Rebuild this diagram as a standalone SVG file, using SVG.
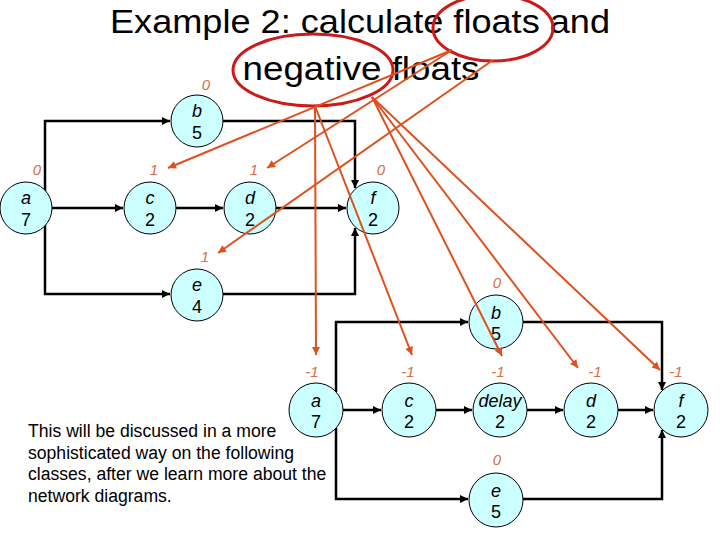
<svg xmlns="http://www.w3.org/2000/svg" width="720" height="540" viewBox="0 0 720 540">
<style>
.node{fill:#ccffff;stroke:#000;stroke-width:1}
.lt{font-family:"Liberation Sans",Arial,sans-serif;font-size:18px;font-style:italic;text-anchor:middle;fill:#000}
.nm{font-family:"Liberation Sans",Arial,sans-serif;font-size:18px;text-anchor:middle;fill:#000}
.fl{font-family:"Liberation Sans",Arial,sans-serif;font-size:15px;font-style:italic;text-anchor:middle;fill:#d4704c}
.edge{fill:none;stroke:#000;stroke-width:2.5}
.ptr{fill:none;stroke:#e0501e;stroke-width:2}
.ring{fill:none;stroke:#cc1a1a;stroke-width:3}
.title{font-family:"Liberation Sans",Arial,sans-serif;font-size:34px;text-anchor:middle;fill:#000}
.note{font-family:"Liberation Sans",Arial,sans-serif;font-size:17.6px;fill:#000}
</style>
<defs>
<marker id="ah" viewBox="0 0 10 10" refX="10" refY="5" markerWidth="9" markerHeight="8" markerUnits="userSpaceOnUse" orient="auto"><path d="M0,0 L10,5 L0,10 Z" fill="#000"/></marker>
<marker id="oh" viewBox="0 0 10 10" refX="10" refY="5" markerWidth="10" markerHeight="8" markerUnits="userSpaceOnUse" orient="auto"><path d="M0,0 L10,5 L0,10 Z" fill="#e0501e"/></marker>
</defs>
<rect width="720" height="540" fill="#fff"/>

<g id="title">
<text class="title" x="360" y="33" textLength="500" lengthAdjust="spacingAndGlyphs">Example 2: calculate floats and</text>
<text class="title" x="361" y="80" textLength="237" lengthAdjust="spacingAndGlyphs">negative floats</text>
</g>

<g id="connectors">
<path class="edge" d="M45,195 V121 H170" marker-end="url(#ah)"/>
<path class="edge" d="M223,121 H355 V188" marker-end="url(#ah)"/>
<path class="edge" d="M52,208 H123" marker-end="url(#ah)"/>
<path class="edge" d="M176,208 H223" marker-end="url(#ah)"/>
<path class="edge" d="M276,208 H346" marker-end="url(#ah)"/>
<path class="edge" d="M45,222 V294 H170" marker-end="url(#ah)"/>
<path class="edge" d="M223,294 H355 V228" marker-end="url(#ah)"/>

<path class="edge" d="M336,392 V322 H468" marker-end="url(#ah)"/>
<path class="edge" d="M523,322 H662 V390" marker-end="url(#ah)"/>
<path class="edge" d="M343,410 H381" marker-end="url(#ah)"/>
<path class="edge" d="M436,410 H472" marker-end="url(#ah)"/>
<path class="edge" d="M527,410 H563" marker-end="url(#ah)"/>
<path class="edge" d="M618,410 H653" marker-end="url(#ah)"/>
<path class="edge" d="M336,428 V499 H468" marker-end="url(#ah)"/>
<path class="edge" d="M523,499 H662 V430" marker-end="url(#ah)"/>
</g>

<g id="node-a1"><circle class="node" cx="26" cy="208" r="26"/><text class="lt" x="26" y="204">a</text><text class="nm" x="26" y="226">7</text></g>
<g id="node-b1"><circle class="node" cx="197" cy="121" r="26"/><text class="lt" x="197" y="117">b</text><text class="nm" x="197" y="139">5</text></g>
<g id="node-c1"><circle class="node" cx="150" cy="208" r="26"/><text class="lt" x="150" y="204">c</text><text class="nm" x="150" y="226">2</text></g>
<g id="node-d1"><circle class="node" cx="250" cy="208" r="26"/><text class="lt" x="250" y="204">d</text><text class="nm" x="250" y="226">2</text></g>
<g id="node-f1"><circle class="node" cx="373" cy="208" r="26"/><text class="lt" x="373" y="204">f</text><text class="nm" x="373" y="226">2</text></g>
<g id="node-e1"><circle class="node" cx="197" cy="295" r="26"/><text class="lt" x="197" y="291">e</text><text class="nm" x="197" y="313">4</text></g>

<g id="node-a2"><circle class="node" cx="316" cy="410" r="27"/><text class="lt" x="316" y="407">a</text><text class="nm" x="316" y="428">7</text></g>
<g id="node-b2"><circle class="node" cx="496" cy="322" r="27"/><text class="lt" x="496" y="319">b</text><text class="nm" x="496" y="340">5</text></g>
<g id="node-c2"><circle class="node" cx="409" cy="410" r="27"/><text class="lt" x="409" y="407">c</text><text class="nm" x="409" y="428">2</text></g>
<g id="node-delay"><circle class="node" cx="500" cy="410" r="27"/><text class="lt" x="500" y="407">delay</text><text class="nm" x="500" y="428">2</text></g>
<g id="node-d2"><circle class="node" cx="591" cy="410" r="27"/><text class="lt" x="591" y="407">d</text><text class="nm" x="591" y="428">2</text></g>
<g id="node-f2"><circle class="node" cx="681" cy="410" r="27"/><text class="lt" x="681" y="407">f</text><text class="nm" x="681" y="428">2</text></g>
<g id="node-e2"><circle class="node" cx="496" cy="500" r="27"/><text class="lt" x="496" y="497">e</text><text class="nm" x="496" y="518">5</text></g>

<g id="float-labels">
<text class="fl" x="206" y="90">0</text>
<text class="fl" x="37" y="175">0</text>
<text class="fl" x="154" y="175">1</text>
<text class="fl" x="254" y="175">1</text>
<text class="fl" x="381" y="175">0</text>
<text class="fl" x="205" y="262">1</text>
<text class="fl" x="497" y="288">0</text>
<text class="fl" x="312" y="377">-1</text>
<text class="fl" x="408" y="377">-1</text>
<text class="fl" x="498" y="377">-1</text>
<text class="fl" x="595" y="377">-1</text>
<text class="fl" x="676" y="377">-1</text>
<text class="fl" x="497" y="465">0</text>
</g>

<g id="highlights">
<ellipse class="ring" cx="313" cy="70" rx="80" ry="36"/>
<ellipse class="ring" cx="493" cy="28" rx="60" ry="33"/>
</g>

<g id="pointers">
<line class="ptr" x1="315" y1="106" x2="316" y2="355" marker-end="url(#oh)"/>
<line class="ptr" x1="315" y1="106" x2="412" y2="355" marker-end="url(#oh)"/>
<line class="ptr" x1="372" y1="97" x2="502" y2="356" marker-end="url(#oh)"/>
<line class="ptr" x1="372" y1="97" x2="578" y2="368" marker-end="url(#oh)"/>
<line class="ptr" x1="372" y1="97" x2="660" y2="370" marker-end="url(#oh)"/>
<line class="ptr" x1="452" y1="50" x2="168" y2="168" marker-end="url(#oh)"/>
<line class="ptr" x1="452" y1="50" x2="267" y2="168" marker-end="url(#oh)"/>
<line class="ptr" x1="493" y1="60" x2="218" y2="253" marker-end="url(#oh)"/>
</g>

<g id="note">
<text class="note" x="28" y="437">This will be discussed in a more</text>
<text class="note" x="28" y="459">sophisticated way on the following</text>
<text class="note" x="28" y="480">classes, after we learn more about the</text>
<text class="note" x="28" y="502">network diagrams.</text>
</g>
</svg>
